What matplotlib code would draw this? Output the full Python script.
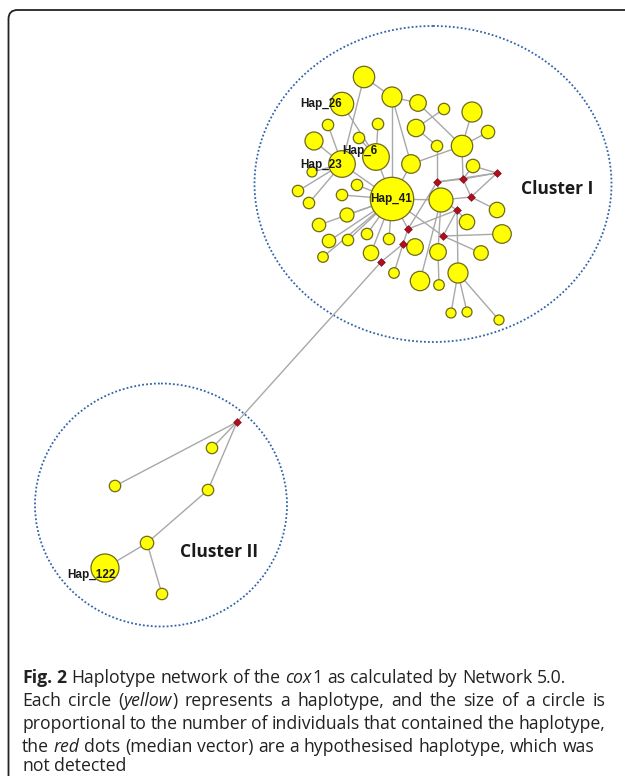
import matplotlib
matplotlib.use("Agg")
import matplotlib.pyplot as plt
from matplotlib.patches import Circle, Ellipse, FancyBboxPatch
from matplotlib.font_manager import FontProperties

# ── Data: haplotype nodes (x, y in pixel layout, radius ~ individuals) ─────────
hap_x = [364, 342, 392, 418, 444, 472, 328, 378, 416, 488,
         314, 359, 376, 342, 312, 437, 462, 411, 473, 392,
         441, 298, 357, 342, 309, 347, 497, 467, 319, 329,
         348, 367, 389, 502, 415, 371, 438, 481, 323, 394,
         458, 420, 439, 451, 467, 499,
         212, 115, 208, 147, 105, 162]
hap_y = [77, 104, 97, 103, 109, 112, 125, 124, 128, 132,
         141, 138, 157, 164, 172, 146, 146, 164, 166, 199,
         200, 191, 185, 195, 203, 215, 210, 222, 225, 241,
         240, 234, 239, 234, 247, 253, 252, 253, 257, 273,
         273, 281, 285, 313, 312, 320,
         448, 486, 490, 543, 568, 594]
hap_r = [10.7, 11.7, 10, 8.3, 5.7, 10, 5.7, 5.7, 8.7, 6.7,
         9, 5.7, 13.3, 13.3, 5, 5.7, 10.7, 9.3, 6.7, 21.7,
         12, 5.7, 5.7, 5.7, 5.7, 7, 7.7, 7.7, 6.7, 6.7,
         5.7, 5.7, 5.7, 9.3, 8.3, 7.7, 8.3, 7.3, 5.3, 5.3,
         10, 9.7, 5.3, 5, 5, 5,
         5.7, 5.7, 5.7, 6.7, 14, 5.7]

# median vectors (red)
mv_x = [437, 463, 497, 471, 457, 443, 408, 403, 381, 237]
mv_y = [182, 179, 173, 197, 210, 236, 229, 244, 262, 422]

# edges: ("h", i) haplotype, ("m", j) median vector
edges = [
    (("h", 0), ("h", 2)), (("h", 0), ("h", 13)), (("h", 1), ("h", 12)),
    (("h", 2), ("h", 19)), (("h", 2), ("h", 3)), (("h", 2), ("h", 17)),
    (("h", 3), ("h", 16)), (("h", 4), ("h", 8)), (("h", 5), ("h", 16)),
    (("h", 9), ("h", 16)), (("h", 8), ("h", 15)), (("h", 17), ("h", 16)),
    (("h", 15), ("m", 0)), (("h", 16), ("m", 1)), (("h", 18), ("m", 1)),
    (("h", 18), ("m", 2)), (("m", 0), ("m", 1)), (("m", 1), ("m", 2)),
    (("m", 2), ("m", 3)), (("m", 0), ("m", 6)), (("m", 0), ("h", 20)),
    (("m", 3), ("h", 20)), (("m", 3), ("h", 26)), (("m", 4), ("h", 20)),
    (("m", 4), ("m", 6)), (("m", 4), ("h", 27)), (("m", 5), ("h", 33)),
    (("m", 5), ("h", 37)), (("m", 5), ("h", 19)), (("m", 5), ("m", 4)),
    (("m", 6), ("h", 19)), (("m", 6), ("m", 7)), (("m", 7), ("m", 8)),
    (("m", 7), ("h", 39)), (("m", 7), ("h", 34)), (("m", 8), ("m", 9)),
    (("h", 19), ("h", 12)), (("h", 19), ("h", 13)), (("h", 19), ("h", 17)),
    (("h", 19), ("h", 20)), (("h", 19), ("h", 22)), (("h", 19), ("h", 23)),
    (("h", 19), ("h", 25)), (("h", 19), ("h", 28)), (("h", 19), ("h", 29)),
    (("h", 19), ("h", 30)), (("h", 19), ("h", 31)), (("h", 19), ("h", 32)),
    (("h", 19), ("h", 35)), (("h", 19), ("h", 38)),
    (("h", 13), ("h", 10)), (("h", 13), ("h", 6)), (("h", 13), ("h", 14)),
    (("h", 13), ("h", 21)), (("h", 13), ("h", 24)), (("h", 12), ("h", 7)),
    (("h", 12), ("h", 11)), (("h", 20), ("h", 36)), (("h", 20), ("h", 41)),
    (("h", 36), ("h", 42)), (("m", 4), ("h", 40)), (("h", 40), ("h", 43)),
    (("h", 40), ("h", 44)), (("h", 40), ("h", 45)), (("m", 3), ("m", 1)),
    (("m", 2), ("m", 0)),
    # cluster II
    (("m", 9), ("h", 46)), (("m", 9), ("h", 47)), (("m", 9), ("h", 48)),
    (("h", 48), ("h", 49)), (("h", 49), ("h", 50)), (("h", 49), ("h", 51)),
]

hap_labels = {1: ("Hap_26", 300, 104), 12: ("Hap_6", 342, 151),
              13: ("Hap_23", 300, 165), 19: ("Hap_41", 370, 199),
              50: ("Hap_122", 67, 575)}

# clusters: name, centre, width, height, label position
cluster_names = ["Cluster I", "Cluster II"]
cluster_cx = [433, 161]
cluster_cy = [184, 505]
cluster_w = [357, 252]
cluster_h = [316, 243]
cluster_lx = [521, 180]
cluster_ly = [189, 552]

caption_lines = [
    [("Fig. 2", "bold"), (" Haplotype network of the ", ""), ("cox", "italic"),
     ("1 as calculated by Network 5.0.", "")],
    [("Each circle (", ""), ("yellow", "italic"),
     (") represents a haplotype, and the size of a circle is", "")],
    [("proportional to the number of individuals that contained the haplotype,", "")],
    [("the ", ""), ("red", "italic"), (" dots (median vector) are a hypothesised haplotype, which was", "")],
    [("not detected", "")],
]
caption_justify = [False, True, True, False, False]

# ── Style ──────────────────────────────────────────────────────────────────────
YELLOW = "#FFFF00"
NODE_EDGE = "#6E6A1E"
LINK = "#A8A8A8"
MV_RED = "#B0101E"
DOT_BLUE = "#2F64A8"
TXT = "#1A1A1A"
H = 776

fig = plt.figure(figsize=(6.25, 7.76), dpi=100)
ax = fig.add_axes([0, 0, 1, 1])
ax.set_xlim(0, 625)
ax.set_ylim(H, 0)
ax.set_axis_off()

# frame (open to the right / bottom)
ax.add_patch(FancyBboxPatch((8.5, 10), 800, 850, boxstyle="round,pad=0,rounding_size=9",
                            facecolor="white", edgecolor="#222222", linewidth=1.3, zorder=0))

# cluster outlines
for name, cx, cy, w, h, lx, ly in zip(cluster_names, cluster_cx, cluster_cy,
                                      cluster_w, cluster_h, cluster_lx, cluster_ly):
    ax.add_patch(Ellipse((cx, cy), w, h, fill=False, edgecolor=DOT_BLUE,
                         linestyle=(0, (1, 1.2)), linewidth=1.3, zorder=1))
    ax.text(lx, ly, name, fontsize=12.5, fontweight="bold", family="Open Sans",
            color=TXT, ha="left", va="center", zorder=6)


def pos(node):
    kind, i = node
    if kind == "h":
        return hap_x[i], hap_y[i]
    return mv_x[i], mv_y[i]


for a, b in edges:
    (x0, y0), (x1, y1) = pos(a), pos(b)
    ax.plot([x0, x1], [y0, y1], color=LINK, linewidth=1.0, zorder=2,
            solid_capstyle="butt")

for x, y, r in zip(hap_x, hap_y, hap_r):
    ax.add_patch(Circle((x, y), r, facecolor=YELLOW, edgecolor=NODE_EDGE,
                        linewidth=0.9, zorder=3))

ax.scatter(mv_x, mv_y, s=16, marker="D", color=MV_RED, edgecolors="#7a0010",
           linewidths=0.4, zorder=4)

for i, (lbl, lx, ly) in hap_labels.items():
    ax.text(lx, ly, lbl, fontsize=8.5, fontweight="bold", family="Liberation Sans",
            color=TXT, ha="left", va="center", zorder=5)

# ── caption: word by word, mixed styles, lines 2-3 justified ──────────────────
CAP_FS = 12.7
CAP_LEFT, CAP_RIGHT = 22, 605
fig.canvas.draw()
renderer = fig.canvas.get_renderer()

props = {
    "": FontProperties(family="Open Sans", size=CAP_FS),
    "bold": FontProperties(family="Open Sans", size=CAP_FS, weight="bold"),
    "italic": FontProperties(family="Open Sans", size=CAP_FS, style="italic"),
}


def ink(s, style):
    w, h, d = renderer.get_text_width_height_descent(s, props[style], ismath=False)
    return w, d


space = {k: ink("x x", k)[0] - ink("xx", k)[0] for k in props}

line_base = [683, 706, 729, 752, 771]
for segs, yb, just in zip(caption_lines, line_base, caption_justify):
    items, gaps, prev_end, pending = [], 0, None, False
    for txt, style in segs:
        body = txt.strip(" ")
        if prev_end is None:
            seg_x = CAP_LEFT
        elif txt.startswith(" ") or pending:
            gaps += 1
            seg_x = prev_end + space[style]
        else:
            seg_x = prev_end + 0.5
        words = body.split(" ")
        for k, word in enumerate(words):
            if k > 0:
                gaps += 1
            wx = seg_x + ink(" ".join(words[:k + 1]), style)[0] - ink(word, style)[0]
            items.append((word, style, wx, gaps))
        prev_end = seg_x + ink(body, style)[0]
        pending = txt.endswith(" ")
    extra = 0.0
    if just and gaps:
        extra = (CAP_RIGHT - prev_end) / gaps
    for word, style, wx, g in items:
        # keep every word on the same pixel baseline
        d = ink(word, style)[1]
        y_disp = round((H - yb) + d) - d
        ax.text(wx + extra * g, H - y_disp, word, fontproperties=props[style],
                color="#222222", ha="left", va="baseline")

fig.savefig("out.png", dpi=100)
